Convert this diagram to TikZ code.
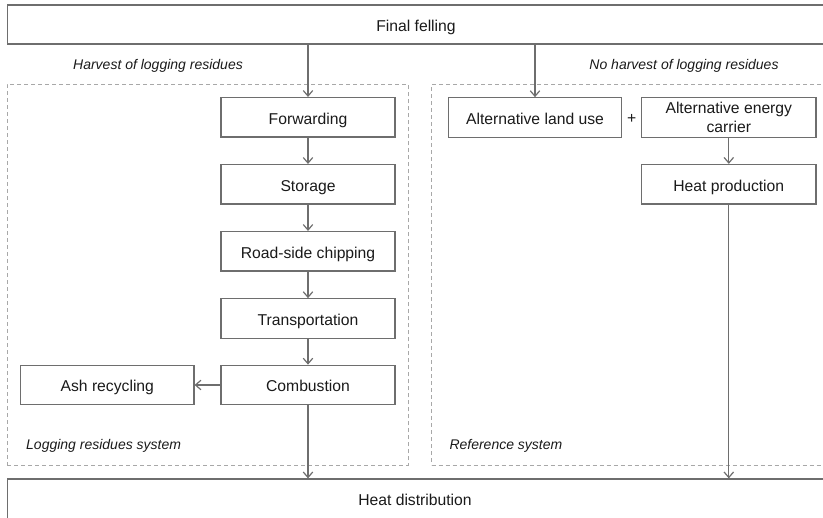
\documentclass[tikz,border=0pt]{standalone}
\usepackage{fontspec}
\setmainfont{Liberation Sans}
\usetikzlibrary{arrows.meta}
\definecolor{boxgray}{HTML}{6E6E6E}
\definecolor{dashgray}{HTML}{A8A8A8}
\definecolor{txt}{HTML}{1A1A1A}
\begin{document}
\begin{tikzpicture}[x=1pt,y=-1pt,
  frame/.style={draw=boxgray, line width=1.2pt, rectangle, inner sep=0pt, font=\fontsize{15.7}{18.4}\selectfont, text=txt, align=center, minimum height=39.5pt},
  box/.style={frame, text height=14pt, text depth=0pt},
  sysbox/.style={draw=dashgray, line width=1pt, dash pattern=on 4pt off 3pt, rectangle, inner sep=0pt},
  lbl/.style={font=\fontsize{14}{16}\selectfont\itshape, text=txt, inner sep=0pt},
  plain/.style={font=\fontsize{15.7}{18}\selectfont, text=txt, inner sep=0pt},
  arr/.style={draw=boxgray, line width=1.2pt, -{Straight Barb[length=5.5pt,width=9.5pt]}}
]
\useasboundingbox (0,0) rectangle (823,518);
% system frames
\node[sysbox, minimum width=401pt, minimum height=381pt] (lsys) at (207.5,275) {};
\node[sysbox, minimum width=400pt, minimum height=380.5pt] (rsys) at (631.7,275.25) {};
% top and bottom
\node[box, minimum width=817pt, minimum height=39pt] (ff) at (416,24.5) {Final felling};
\node[frame, minimum width=828pt, minimum height=61pt] (hd) at (421.3,509.5) {};
\node[plain, anchor=base] (hdt) at (415,505.7) {Heat distribution};
% left chain
\node[box, minimum width=174pt] (fw) at (308,117.3) {Forwarding};
\node[box, minimum width=174pt] (st) at (308,184.3) {Storage};
\node[box, minimum width=174pt] (rs) at (308,251.3) {Road-side chipping};
\node[box, minimum width=174pt] (tr) at (308,318.5) {Transportation};
\node[box, minimum width=174pt] (cb) at (308,385) {Combustion};
\node[box, minimum width=173.3pt] (ash) at (107.3,385) {Ash recycling};
% right chain
\node[box, minimum width=173.4pt] (alu) at (535,117.5) {Alternative land use};
\node[frame, minimum width=174.3pt] (aec) at (728.8,117.5) {Alternative energy\\carrier};
\node[box, minimum width=174.3pt] (hp) at (728.8,184.2) {Heat production};
\node[plain] (plus) at (631.7,119.3) {+};
% labels
\node[lbl, anchor=base] (harv) at (158,69.5) {Harvest of logging residues};
\node[lbl, anchor=base] (noharv) at (684,69.5) {No harvest of logging residues};
\node[lbl, anchor=base west] (lsl) at (26,449.5) {Logging residues system};
\node[lbl, anchor=base west] (rsl) at (449.3,450) {Reference system};
% connectors
\draw[arr] (ff.south -| fw.north) -- (fw.north);
\draw[arr] (ff.south -| alu.north) -- (alu.north);
\draw[arr] (fw) -- (st);
\draw[arr] (st) -- (rs);
\draw[arr] (rs) -- (tr);
\draw[arr] (tr) -- (cb);
\draw[arr] (cb) -- (ash);
\draw[arr] (cb.south) -- (cb.south |- hd.north);
\draw[arr] (aec) -- (hp);
\draw[arr] (hp.south) -- (hp.south |- hd.north);
\end{tikzpicture}
\end{document}
